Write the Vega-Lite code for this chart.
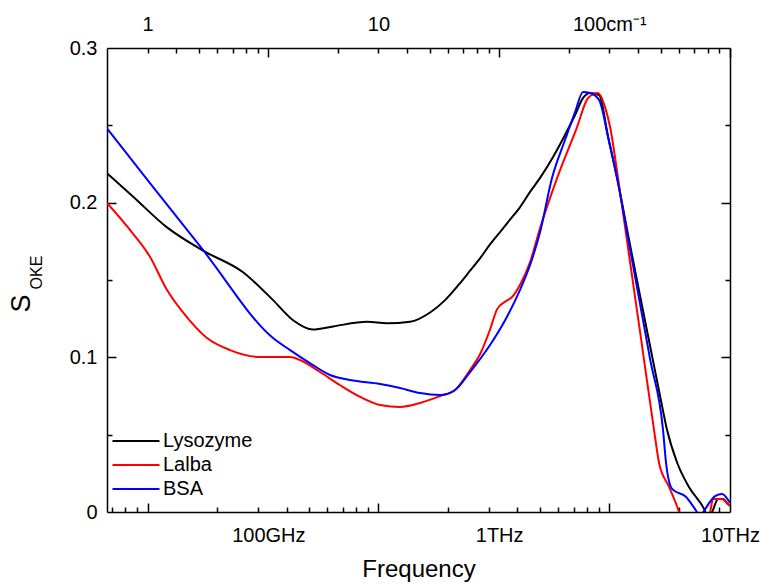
{
  "$schema": "https://vega.github.io/schema/vega-lite/v6.json",
  "width": 623,
  "height": 464,
  "autosize": "none",
  "padding": {"left": 107, "top": 48, "right": 31, "bottom": 73},
  "config": {
    "font": "Liberation Sans",
    "view": {"stroke": null},
    "axis": {"domainColor": "black", "tickColor": "black", "labelColor": "black", "titleColor": "black", "grid": false, "titleFontWeight": "normal", "domainWidth": 1.5, "gridColor": "black", "gridWidth": 1.5, "gridOpacity": 1, "zindex": 1}
  },
  "data": {"values": [
    {"s":"Lysozyme","f":0.02,"v":0.219},{"s":"Lysozyme","f":0.0259,"v":0.204},{"s":"Lysozyme","f":0.0364,"v":0.184},{"s":"Lysozyme","f":0.0521,"v":0.169},{"s":"Lysozyme","f":0.0777,"v":0.155},{"s":"Lysozyme","f":0.1048,"v":0.137},{"s":"Lysozyme","f":0.128,"v":0.124},{"s":"Lysozyme","f":0.156,"v":0.118},{"s":"Lysozyme","f":0.191,"v":0.12},{"s":"Lysozyme","f":0.268,"v":0.123},{"s":"Lysozyme","f":0.327,"v":0.122},{"s":"Lysozyme","f":0.411,"v":0.123},{"s":"Lysozyme","f":0.502,"v":0.129},{"s":"Lysozyme","f":0.583,"v":0.137},{"s":"Lysozyme","f":0.677,"v":0.148},{"s":"Lysozyme","f":0.748,"v":0.156},{"s":"Lysozyme","f":0.826,"v":0.164},{"s":"Lysozyme","f":0.913,"v":0.173},{"s":"Lysozyme","f":1.009,"v":0.181},{"s":"Lysozyme","f":1.114,"v":0.189},{"s":"Lysozyme","f":1.23,"v":0.197},{"s":"Lysozyme","f":1.361,"v":0.207},{"s":"Lysozyme","f":1.504,"v":0.216},{"s":"Lysozyme","f":1.712,"v":0.2295},{"s":"Lysozyme","f":1.928,"v":0.2437},{"s":"Lysozyme","f":2.132,"v":0.2567},{"s":"Lysozyme","f":2.31,"v":0.2677},{"s":"Lysozyme","f":2.476,"v":0.2709},{"s":"Lysozyme","f":2.71,"v":0.2696},{"s":"Lysozyme","f":2.964,"v":0.2425},{"s":"Lysozyme","f":3.242,"v":0.2159},{"s":"Lysozyme","f":3.69,"v":0.1726},{"s":"Lysozyme","f":4.078,"v":0.1397},{"s":"Lysozyme","f":4.506,"v":0.1073},{"s":"Lysozyme","f":4.978,"v":0.075},{"s":"Lysozyme","f":5.338,"v":0.053},{"s":"Lysozyme","f":5.898,"v":0.032},{"s":"Lysozyme","f":6.65,"v":0.016},{"s":"Lysozyme","f":7.72,"v":0.002},{"s":"Lysozyme","f":8.0,"v":-0.003},{"s":"Lysozyme","f":8.36,"v":0.0},{"s":"Lysozyme","f":8.88,"v":0.0084},{"s":"Lysozyme","f":9.33,"v":0.0084},{"s":"Lysozyme","f":9.81,"v":0.005},{"s":"Lysozyme","f":10,"v":0.004},
    {"s":"Lalba","f":0.02,"v":0.1998},{"s":"Lalba","f":0.0259,"v":0.18},{"s":"Lalba","f":0.0307,"v":0.165},{"s":"Lalba","f":0.0364,"v":0.1435},{"s":"Lalba","f":0.0427,"v":0.129},{"s":"Lalba","f":0.0542,"v":0.1125},{"s":"Lalba","f":0.0682,"v":0.1047},{"s":"Lalba","f":0.0921,"v":0.1002},{"s":"Lalba","f":0.1242,"v":0.1002},{"s":"Lalba","f":0.137,"v":0.0983},{"s":"Lalba","f":0.1675,"v":0.0905},{"s":"Lalba","f":0.204,"v":0.0821},{"s":"Lalba","f":0.25,"v":0.0744},{"s":"Lalba","f":0.305,"v":0.0692},{"s":"Lalba","f":0.372,"v":0.0679},{"s":"Lalba","f":0.454,"v":0.0705},{"s":"Lalba","f":0.555,"v":0.075},{"s":"Lalba","f":0.644,"v":0.0789},{"s":"Lalba","f":0.748,"v":0.0918},{"s":"Lalba","f":0.826,"v":0.102},{"s":"Lalba","f":0.913,"v":0.118},{"s":"Lalba","f":0.979,"v":0.131},{"s":"Lalba","f":1.061,"v":0.136},{"s":"Lalba","f":1.137,"v":0.139},{"s":"Lalba","f":1.23,"v":0.1468},{"s":"Lalba","f":1.361,"v":0.1616},{"s":"Lalba","f":1.504,"v":0.1836},{"s":"Lalba","f":1.782,"v":0.2159},{"s":"Lalba","f":2.175,"v":0.2489},{"s":"Lalba","f":2.427,"v":0.2677},{"s":"Lalba","f":2.682,"v":0.2709},{"s":"Lalba","f":2.876,"v":0.2618},{"s":"Lalba","f":3.024,"v":0.2489},{"s":"Lalba","f":3.274,"v":0.2159},{"s":"Lalba","f":3.69,"v":0.1616},{"s":"Lalba","f":4.078,"v":0.1164},{"s":"Lalba","f":4.688,"v":0.053},{"s":"Lalba","f":4.928,"v":0.0317},{"s":"Lalba","f":5.446,"v":0.0162},{"s":"Lalba","f":6.01,"v":0.0},{"s":"Lalba","f":6.5,"v":-0.02},{"s":"Lalba","f":7.5,"v":-0.02},{"s":"Lalba","f":8.2,"v":0.0},{"s":"Lalba","f":8.45,"v":0.0084},{"s":"Lalba","f":9.24,"v":0.0084},{"s":"Lalba","f":9.81,"v":0.005},{"s":"Lalba","f":10,"v":0.004},
    {"s":"BSA","f":0.02,"v":0.248},{"s":"BSA","f":0.0307,"v":0.2127},{"s":"BSA","f":0.0521,"v":0.1694},{"s":"BSA","f":0.1048,"v":0.1125},{"s":"BSA","f":0.1242,"v":0.1047},{"s":"BSA","f":0.1515,"v":0.0963},{"s":"BSA","f":0.185,"v":0.0886},{"s":"BSA","f":0.226,"v":0.0853},{"s":"BSA","f":0.305,"v":0.0828},{"s":"BSA","f":0.372,"v":0.0802},{"s":"BSA","f":0.454,"v":0.0769},{"s":"BSA","f":0.555,"v":0.0756},{"s":"BSA","f":0.644,"v":0.0789},{"s":"BSA","f":0.748,"v":0.0905},{"s":"BSA","f":0.913,"v":0.108},{"s":"BSA","f":1.061,"v":0.124},{"s":"BSA","f":1.23,"v":0.1435},{"s":"BSA","f":1.361,"v":0.1597},{"s":"BSA","f":1.504,"v":0.181},{"s":"BSA","f":1.694,"v":0.2159},{"s":"BSA","f":1.928,"v":0.2405},{"s":"BSA","f":2.132,"v":0.2586},{"s":"BSA","f":2.31,"v":0.2715},{"s":"BSA","f":2.476,"v":0.2709},{"s":"BSA","f":2.71,"v":0.2664},{"s":"BSA","f":2.964,"v":0.2425},{"s":"BSA","f":3.242,"v":0.2159},{"s":"BSA","f":3.69,"v":0.17},{"s":"BSA","f":4.078,"v":0.1345},{"s":"BSA","f":4.506,"v":0.0989},{"s":"BSA","f":5.128,"v":0.053},{"s":"BSA","f":5.284,"v":0.0317},{"s":"BSA","f":5.61,"v":0.0149},{"s":"BSA","f":6.454,"v":0.0097},{"s":"BSA","f":7.06,"v":0.0019},{"s":"BSA","f":7.42,"v":-0.0026},{"s":"BSA","f":7.8,"v":0.0019},{"s":"BSA","f":8.62,"v":0.0103},{"s":"BSA","f":9.24,"v":0.0116},{"s":"BSA","f":9.81,"v":0.0078},{"s":"BSA","f":10,"v":0.0058}
  ]},
  "resolve": {"axis": {"x": "independent", "y": "independent"}},
  "layer": [
    {
      "mark": {"type": "line", "strokeWidth": 2, "interpolate": "monotone", "clip": true},
      "encoding": {
        "x": {"field": "f", "type": "quantitative", "scale": {"type": "log", "domain": [0.02, 10], "nice": false},
          "axis": {"orient": "bottom", "values": [0.1, 1, 10], "labelExpr": "datum.value < 0.5 ? '100GHz' : datum.value < 5 ? '1THz' : '10THz'", "ticks": false, "labelPadding": 13, "labelFontSize": 20, "labelFlush": false, "labelOverlap": false, "title": "Frequency", "titleFontSize": 24, "titlePadding": 12}},
        "y": {"field": "v", "type": "quantitative", "scale": {"domain": [0, 0.3], "nice": false, "zero": false},
          "axis": {"orient": "left", "values": [0, 0.1, 0.2, 0.3], "labelExpr": "datum.value == 0 ? '0' : format(datum.value, '.1f')", "ticks": false, "labelPadding": 10, "labelFontSize": 20, "labelFlush": false, "labelOverlap": false, "title": "S", "titleFontSize": 27, "titleX": -86, "titleY": 255, "titleAlign": "center", "titleBaseline": "middle"}},
        "color": {"field": "s", "type": "nominal", "sort": ["Lysozyme", "Lalba", "BSA"],
          "scale": {"domain": ["Lysozyme", "Lalba", "BSA"], "range": ["#000000", "#ff0000", "#0000ff"]},
          "legend": {"title": null, "orient": "none", "legendX": 19, "legendY": 383, "symbolType": "M-4,0H4", "symbolSize": 138, "symbolStrokeWidth": 2, "symbolFillColor": "transparent", "labelFontSize": 20, "labelColor": "black", "labelOffset": 17, "rowPadding": 4, "padding": 0}}
      }
    },
    {
      "mark": {"type": "line", "opacity": 0, "clip": true},
      "encoding": {
        "x": {"field": "f", "type": "quantitative", "scale": {"type": "log", "domain": [0.02, 10], "nice": false},
          "axis": {"orient": "bottom", "values": [0.1, 1, 10], "grid": true, "gridDash": [9, 1000], "ticks": false, "labels": false, "domain": false, "title": null}},
        "y": {"field": "v", "type": "quantitative", "scale": {"domain": [0, 0.3], "nice": false, "zero": false},
          "axis": {"orient": "left", "values": [0.1, 0.2], "grid": true, "gridDash": [9, 605, 9, 100], "ticks": false, "labels": false, "domain": false, "title": "OKE", "titleFontSize": 16, "titleX": -71, "titleY": 224, "titleAlign": "center", "titleBaseline": "middle"}}
      }
    },
    {
      "mark": {"type": "line", "opacity": 0, "clip": true},
      "encoding": {
        "x": {"field": "f", "type": "quantitative", "scale": {"type": "log", "domain": [0.02, 10], "nice": false},
          "axis": {"orient": "bottom", "values": [0.03, 0.04, 0.05, 0.06, 0.07, 0.08, 0.09, 0.2, 0.3, 0.4, 0.5, 0.6, 0.7, 0.8, 0.9, 2, 3, 4, 5, 6, 7, 8, 9], "grid": true, "gridDash": [5, 1000], "ticks": false, "labels": false, "domain": false, "title": null}},
        "y": {"field": "v", "type": "quantitative", "scale": {"domain": [0, 0.3], "nice": false, "zero": false},
          "axis": {"orient": "left", "values": [0.05, 0.15, 0.25], "grid": true, "gridDash": [5, 613, 5, 100], "ticks": false, "labels": false, "domain": false, "title": null}}
      }
    },
    {
      "mark": {"type": "line", "opacity": 0, "clip": true},
      "encoding": {
        "x": {"field": "f", "type": "quantitative", "scale": {"type": "log", "domain": [0.02, 10], "nice": false},
          "axis": {"orient": "top", "values": [0.03, 0.3, 3], "labelExpr": "datum.value < 0.1 ? '1' : datum.value < 1 ? '10' : '100cm⁻¹'", "ticks": false, "labelPadding": 14, "labelFontSize": 20, "labelFlush": false, "labelOverlap": false, "title": null}},
        "y": {"field": "v", "type": "quantitative", "scale": {"domain": [0, 0.3], "nice": false, "zero": false},
          "axis": {"orient": "right", "values": [0, 0.1, 0.2, 0.3], "ticks": false, "labels": false, "title": null}}
      }
    },
    {
      "mark": {"type": "line", "opacity": 0, "clip": true},
      "encoding": {
        "x": {"field": "f", "type": "quantitative", "scale": {"type": "log", "domain": [0.02, 10], "nice": false},
          "axis": {"orient": "top", "values": [0.03, 0.3, 3], "grid": true, "gridDash": [9, 1000], "ticks": false, "labels": false, "domain": false, "title": null}},
        "y": {"field": "v", "type": "quantitative", "scale": {"domain": [0, 0.3], "nice": false, "zero": false}, "axis": null}
      }
    },
    {
      "mark": {"type": "line", "opacity": 0, "clip": true},
      "encoding": {
        "x": {"field": "f", "type": "quantitative", "scale": {"type": "log", "domain": [0.02, 10], "nice": false},
          "axis": {"orient": "top", "values": [0.021, 0.024, 0.027, 0.06, 0.09, 0.12, 0.15, 0.18, 0.21, 0.24, 0.27, 0.6, 0.9, 1.2, 1.5, 1.8, 2.1, 2.4, 2.7, 6, 9], "grid": true, "gridDash": [5, 1000], "ticks": false, "labels": false, "domain": false, "title": null}},
        "y": {"field": "v", "type": "quantitative", "scale": {"domain": [0, 0.3], "nice": false, "zero": false}, "axis": null}
      }
    }
  ]
}
